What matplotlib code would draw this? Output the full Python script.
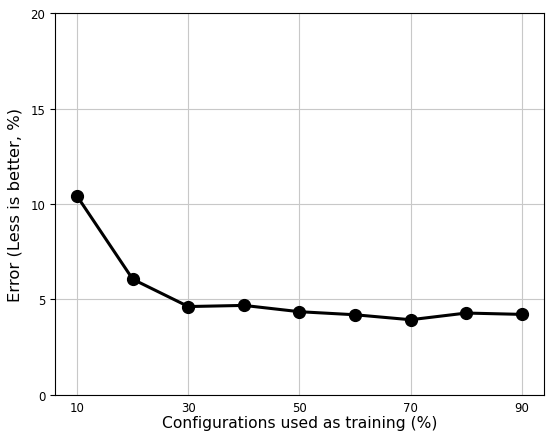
import matplotlib
matplotlib.use("Agg")
import matplotlib.pyplot as plt

# Valeurs
training_pct = [10, 20, 30, 40, 50, 60, 70, 80, 90]
error_pct = [10.40, 6.06, 4.63, 4.69, 4.36, 4.20, 3.94, 4.29, 4.22]
x_ticks = [10, 30, 50, 70, 90]
y_ticks = [0, 5, 10, 15, 20]

fig = plt.figure(figsize=(5.46, 4.35), dpi=100)
ax = fig.add_axes([0.1007, 0.0897, 0.8956, 0.8781])

ax.plot(training_pct, error_pct, color="black", linewidth=2.2,
        marker="o", markersize=8.5, zorder=3)

ax.set_xticks(x_ticks)
ax.set_yticks(y_ticks)
ax.set_ylim(0, 20)
ax.tick_params(labelsize=8.5)
ax.tick_params(axis="x", length=0, pad=4)
ax.grid(True, color="#c8c8c8", linewidth=0.8)
ax.set_axisbelow(True)

ax.set_xlabel("Configurations used as training (%)", fontsize=11.2, labelpad=1)
ax.set_ylabel("Error (Less is better, %)", fontsize=11.8, labelpad=6)

fig.savefig("out.png", dpi=100)
